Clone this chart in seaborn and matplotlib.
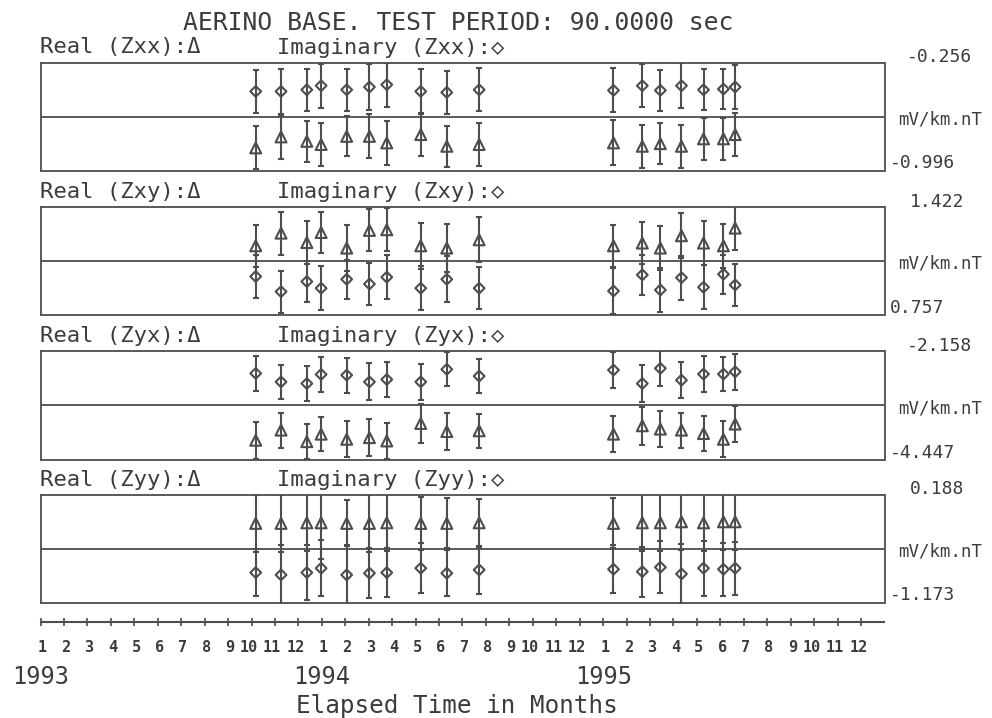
import matplotlib
matplotlib.use("Agg")
import matplotlib.pyplot as plt
import seaborn as sns

# ---------------- data ----------------
title = "AERINO BASE. TEST PERIOD: 90.0000 sec"
components = ["Zxx", "Zxy", "Zyx", "Zyy"]
unit = "mV/km.nT"
xlabel = "Elapsed Time in Months"

# elapsed months since 1 Jan 1993 (1 = Jan 1993)
months = [10.18, 11.26, 12.36, 12.97, 14.06, 15.03, 15.77, 17.22, 18.33, 19.71,
          25.44, 26.67, 27.44, 28.34, 29.28, 30.13, 30.63]

zxx_real = [-0.841, -0.766, -0.796, -0.818, -0.762, -0.762, -0.807, -0.750, -0.830, -0.818,
            -0.807, -0.830, -0.812, -0.830, -0.779, -0.779, -0.750]
zxx_real_err = [0.148, 0.148, 0.140, 0.147, 0.137, 0.150, 0.150, 0.148, 0.141, 0.148,
                0.154, 0.148, 0.140, 0.148, 0.142, 0.145, 0.150]
zxx_imag = [-0.454, -0.454, -0.443, -0.415, -0.443, -0.424, -0.408, -0.454, -0.461, -0.443,
            -0.447, -0.415, -0.447, -0.415, -0.443, -0.438, -0.424]
zxx_imag_err = [0.148, 0.154, 0.142, 0.150, 0.142, 0.156, 0.150, 0.154, 0.145, 0.146,
                0.150, 0.147, 0.140, 0.154, 0.140, 0.139, 0.152]

zxy_real = [1.183, 1.261, 1.203, 1.265, 1.169, 1.278, 1.282, 1.183, 1.169, 1.220,
            1.183, 1.200, 1.169, 1.245, 1.200, 1.183, 1.292]
zxy_real_err = [0.130, 0.132, 0.130, 0.128, 0.144, 0.130, 0.134, 0.140, 0.150, 0.138,
                0.130, 0.127, 0.133, 0.140, 0.133, 0.134, 0.137]
zxy_imag = [0.994, 0.901, 0.963, 0.922, 0.977, 0.948, 0.990, 0.922, 0.977, 0.922,
            0.905, 1.004, 0.911, 0.987, 0.928, 1.008, 0.942]
zxy_imag_err = [0.131, 0.130, 0.125, 0.134, 0.119, 0.132, 0.134, 0.136, 0.142, 0.131,
                0.139, 0.122, 0.134, 0.136, 0.137, 0.119, 0.132]

zyx_real = [-4.039, -3.824, -4.069, -3.910, -4.018, -3.983, -4.054, -3.683, -3.854, -3.839,
            -3.910, -3.732, -3.803, -3.824, -3.897, -4.018, -3.696]
zyx_real_err = [0.393, 0.369, 0.376, 0.361, 0.386, 0.397, 0.386, 0.419, 0.393, 0.359,
                0.376, 0.404, 0.376, 0.369, 0.376, 0.382, 0.376]
zyx_imag = [-2.622, -2.802, -2.837, -2.644, -2.659, -2.802, -2.751, -2.802, -2.536, -2.680,
            -2.551, -2.837, -2.515, -2.766, -2.637, -2.637, -2.588]
zyx_imag_err = [0.371, 0.365, 0.365, 0.365, 0.369, 0.393, 0.376, 0.386, 0.359, 0.359,
                0.382, 0.393, 0.369, 0.376, 0.380, 0.359, 0.380]

zyy_real = [-0.176, -0.176, -0.169, -0.169, -0.176, -0.176, -0.169, -0.176, -0.176, -0.169,
            -0.176, -0.169, -0.169, -0.156, -0.169, -0.156, -0.156]
zyy_real_err = [0.36, 0.36, 0.36, 0.46, 0.29, 0.36, 0.36, 0.335, 0.314, 0.306,
                0.314, 0.36, 0.36, 0.36, 0.36, 0.36, 0.36]
zyy_imag = [-0.796, -0.825, -0.796, -0.741, -0.825, -0.804, -0.796, -0.741, -0.804, -0.762,
            -0.754, -0.784, -0.729, -0.813, -0.741, -0.754, -0.741]
zyy_imag_err = [0.301, 0.377, 0.343, 0.355, 0.377, 0.314, 0.309, 0.314, 0.293, 0.301,
                0.301, 0.314, 0.326, 0.377, 0.348, 0.335, 0.335]

y_top = [-0.256, 1.422, -2.158, 0.188]
y_bottom = [-0.996, 0.757, -4.447, -1.173]

month_tick_labels = ["1", "2", "3", "4", "5", "6", "7", "8", "9", "10", "11", "12"] * 3
year_labels = ["1993", "1994", "1995"]
year_months = [1, 13, 25]

real_series = [(zxx_real, zxx_real_err), (zxy_real, zxy_real_err),
               (zyx_real, zyx_real_err), (zyy_real, zyy_real_err)]
imag_series = [(zxx_imag, zxx_imag_err), (zxy_imag, zxy_imag_err),
               (zyx_imag, zyx_imag_err), (zyy_imag, zyy_imag_err)]

# ---------------- style ----------------
sns.set_theme(style="white")
plt.rcParams["font.family"] = ["DejaVu Sans Mono", "DejaVu Sans"]
TXT = "#3c3c3c"
LN = "#4d4d4d"

W, H = 992, 718
fig = plt.figure(figsize=(W / 100, H / 100), dpi=100)
fig.patch.set_facecolor("white")


def rect(x0, y0, x1, y1):
    return [x0 / W, 1 - y1 / H, (x1 - x0) / W, (y1 - y0) / H]


X0, X1 = 40.5, 884.5
XLIM = (1, 37)
panel_tops = [62.5, 207.0, 351.5, 494.5]
PH = 108.0

fig.text(458 / W, 1 - 23 / H, title, ha="center", va="center", fontsize=17.8, color=TXT)

for i, comp in enumerate(components):
    top = panel_tops[i]
    ax = fig.add_axes(rect(X0, top, X1, top + PH))
    ax.set_xlim(*XLIM)
    ax.set_ylim(y_bottom[i], y_top[i])
    ax.set_xticks([])
    ax.set_yticks([])
    for s in ax.spines.values():
        s.set_color(LN)
        s.set_linewidth(1.3)
        s.set_visible(True)
    ax.axhline((y_top[i] + y_bottom[i]) / 2, color=LN, lw=1.3, zorder=1)

    for (vals, errs), mk, ms in [(real_series[i], "^", 62), (imag_series[i], "D", 30)]:
        ax.errorbar(months, vals, yerr=errs, fmt="none", ecolor=LN, elinewidth=1.5,
                    capsize=2.3, capthick=1.5, zorder=2)
        sns.scatterplot(x=months, y=vals, marker=mk, s=ms, facecolors="none",
                        edgecolor=LN, linewidth=1.5, ax=ax, zorder=3, legend=False)

    ax.annotate(f"Real ({comp}):\u0394", xy=(0, 1), xycoords="axes fraction",
                xytext=(-0.5, 15), textcoords="offset pixels", ha="left", va="center",
                fontsize=16, color=TXT)
    ax.annotate(f"Imaginary ({comp}):\u25C7", xy=(0, 1), xycoords="axes fraction",
                xytext=(236.5, 15), textcoords="offset pixels", ha="left", va="center",
                fontsize=16, color=TXT)
    ax.annotate(f"{y_top[i]:.3f}", xy=(1, 1), xycoords="axes fraction",
                xytext=(22.5 if y_top[i] < 0 else 25.5, 5), textcoords="offset pixels",
                ha="left", va="center", fontsize=13, color=TXT)
    ax.annotate(f"{y_bottom[i]:.3f}", xy=(1, 0), xycoords="axes fraction",
                xytext=(5.5, 7), textcoords="offset pixels",
                ha="left", va="center", fontsize=13, color=TXT)
    ax.annotate(unit, xy=(1, 0.5), xycoords="axes fraction",
                xytext=(13.5, -3), textcoords="offset pixels",
                ha="left", va="center", fontsize=12.5, color=TXT)

# ---------------- time axis ----------------
axt = fig.add_axes(rect(X0, 620.5, X1, 621.5))
axt.set_xlim(*XLIM)
axt.set_ylim(0, 1)
axt.set_yticks([])
for name, s in axt.spines.items():
    s.set_visible(name == "bottom")
axt.spines["bottom"].set_color(LN)
axt.spines["bottom"].set_linewidth(1.5)
tick_pos = list(range(1, 37))
axt.set_xticks(tick_pos)
axt.set_xticklabels([])
axt.tick_params(axis="x", direction="inout", length=6, width=1.2, color=LN, bottom=True)
axt.patch.set_alpha(0)

for m, lbl in zip(tick_pos, month_tick_labels):
    axt.annotate(lbl, xy=(m + 0.27, 0), xycoords=("data", "axes fraction"),
                 xytext=(0, -26), textcoords="offset pixels", ha="right", va="center",
                 fontsize=11, fontweight="bold", color=TXT)
for m, lbl in zip(year_months, year_labels):
    axt.annotate(lbl, xy=(m, 0), xycoords=("data", "axes fraction"),
                 xytext=(0, -56), textcoords="offset pixels", ha="center", va="center",
                 fontsize=17, color=TXT)
axt.annotate(xlabel, xy=(0.493, 0), xycoords="axes fraction",
             xytext=(0, -84), textcoords="offset pixels", ha="center", va="center",
             fontsize=17.5, color=TXT)

fig.savefig("out.png", dpi=100, facecolor="white")
